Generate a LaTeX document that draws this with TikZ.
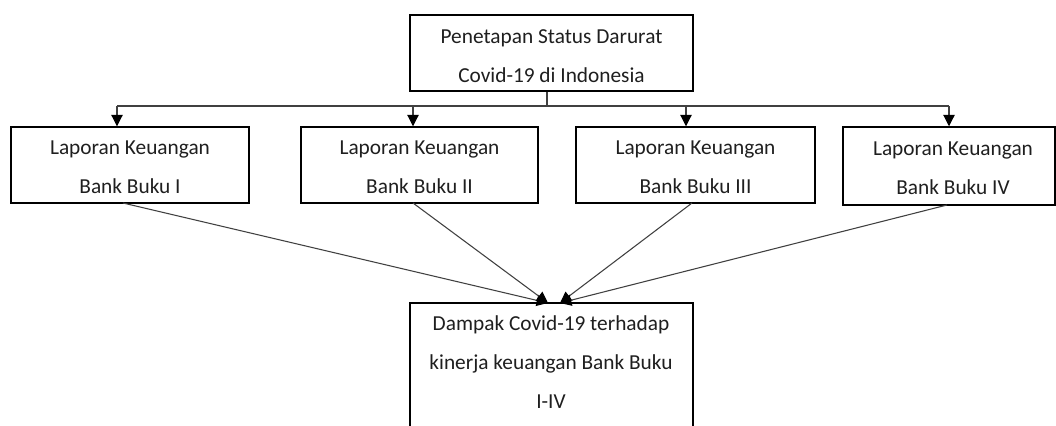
\documentclass[tikz,border=0pt]{standalone}
\usepackage{fontspec}
\setmainfont{Carlito}
\usetikzlibrary{arrows.meta,fit}
\begin{document}
\begin{tikzpicture}[x=0.75pt,y=-0.75pt,
  box/.style={draw=black, line width=1.1pt, inner sep=0pt},
  lbl/.style={anchor=base, align=center, inner sep=0pt, text=black!88, font=\fontsize{16pt}{29.25pt}\selectfont},
  conn/.style={draw=black!75, line width=0.8pt},
  arr/.style={conn, -{Triangle[width=8.5pt,length=8.5pt,color=black]}}]
\clip (0,0) rectangle (1056,425);
\fill[white] (0,0) rectangle (1056,425);
% boxes
\node[box, fit={(410,15) (693,91)}] (top) {};
\node[box, fit={(11,127) (249,203)}] (b1) {};
\node[box, fit={(301,127) (538,203)}] (b2) {};
\node[box, fit={(576,127) (815,203)}] (b3) {};
\node[box, fit={(843,127) (1055,205)}] (b4) {};
\node[box, fit={(410,303) (693,460)}] (bot) {};
% texts
\node[lbl] (ttop) at (551.5,82) {Penetapan Status Darurat\\Covid-19 di Indonesia};
\node[lbl] (t1) at (130,193) {Laporan Keuangan\\Bank Buku I};
\node[lbl] (t2) at (419.5,193) {Laporan Keuangan\\Bank Buku II};
\node[lbl] (t3) at (695.5,193) {Laporan Keuangan\\Bank Buku III};
\node[lbl] (t4) at (953,194) {Laporan Keuangan\\Bank Buku IV};
\node[lbl] (tbot) at (551,408) {Dampak Covid-19 terhadap\\kinerja keuangan Bank Buku\\I-IV};
% connector points
\coordinate (j) at (547,106);
\coordinate (h1) at (117,106);
\coordinate (h2) at (413,106);
\coordinate (h3) at (686,106);
\coordinate (h4) at (949,106);
\coordinate (s1) at (123,203);
\coordinate (s2) at (413,203);
\coordinate (s3) at (692,203);
\coordinate (s4) at (947,205);
\coordinate (p1) at (548,303);
\coordinate (p2) at (560,303);
% top distribution
\draw[conn] (top.south -| j) -- (j);
\draw[conn] (h1) -- (h4);
\draw[arr] (h1) -- (h1 |- b1.north);
\draw[arr] (h2) -- (h2 |- b2.north);
\draw[arr] (h3) -- (h3 |- b3.north);
\draw[arr] (h4) -- (h4 |- b4.north);
% converging
\draw[arr] (s1) -- (p1);
\draw[arr] (s2) -- (p1);
\draw[arr] (s3) -- (p2);
\draw[arr] (s4) -- (p2);
\end{tikzpicture}
\end{document}
